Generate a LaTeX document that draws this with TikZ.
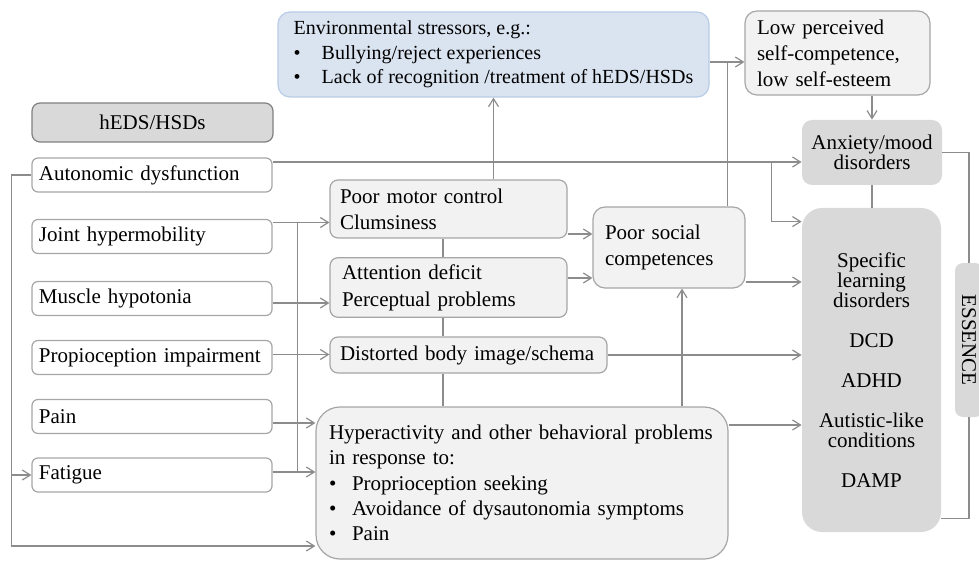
\documentclass[tikz,border=0pt]{standalone}
\usepackage{fontspec}
\usepackage{graphicx}
\setmainfont{Liberation Serif}
\usetikzlibrary{arrows.meta}
\definecolor{boxline}{HTML}{A6A6A6}
\definecolor{connline}{HTML}{8C8C8C}
\definecolor{lightfill}{HTML}{F2F2F2}
\definecolor{darkfill}{HTML}{D9D9D9}
\definecolor{envfill}{HTML}{DAE3F0}
\definecolor{envline}{HTML}{B8CCE8}
\begin{document}
\begin{tikzpicture}[x=0.5pt,y=-0.5pt,
    every node/.style={font=\fontsize{10.5}{13}\selectfont},
    leftbox/.style={draw=boxline,fill=white,line width=0.6pt,rounded corners=3pt,
      minimum height=17pt,inner xsep=3.5pt,text width=113pt,align=left},
    midbox/.style={draw=boxline,fill=lightfill,line width=0.6pt,rounded corners=4pt,align=left},
    greybox/.style={fill=darkfill,rounded corners=5pt,align=center,
      font=\fontsize{10.5}{10}\selectfont},
    line/.style={draw=connline,line width=0.6pt},
    arr/.style={line,-{Straight Barb[length=4pt,width=5pt]}}]
      \clip (0,0) rectangle (979,561);
      \node[draw=black!50,fill=darkfill,line width=0.6pt,rounded corners=4pt,
        minimum width=120.5pt,minimum height=19.5pt] (heds) at (152.5,122.5) {hEDS/HSDs};
      \node[leftbox] (auto) at (152,175) {Autonomic dysfunction};
      \node[leftbox] (joint) at (152,236.5) {Joint hypermobility};
      \node[leftbox] (musc) at (152,298.5) {Muscle hypotonia};
      \node[leftbox] (prop) at (152,357.5) {Propioception impairment};
      \node[leftbox] (pain) at (152,416.5) {Pain};
      \node[leftbox] (fat) at (152,475) {Fatigue};
      \node[midbox,fill=envfill,draw=envline,rounded corners=6pt,
        minimum width=215.5pt,minimum height=42.5pt,
        font=\fontsize{10}{12.25}\selectfont] (env) at (493.5,54.5)
        {Environmental stressors, e.g.:\\
         \makebox[14pt][l]{\textbullet}Bullying/reject experiences\\
         \makebox[14pt][l]{\textbullet}Lack of recognition /treatment of hEDS/HSDs};
      \node[midbox,rounded corners=6pt,inner xsep=6pt,text width=80.5pt,
        minimum height=42pt] (low) at (837.5,53)
        {Low perceived\\self-competence,\\low self-esteem};
      \node[midbox,inner xsep=5pt,text width=108.5pt,minimum height=29pt] (motor)
        at (448.5,209) {Poor motor control\\Clumsiness};
      \node[midbox,inner xsep=6pt,text width=106.5pt,minimum height=28.5pt,
        font=\fontsize{10.5}{13.5}\selectfont] (attn) at (448.5,287.5)
        {Attention deficit\\Perceptual problems};
      \node[midbox,inner xsep=5pt,text width=128.5pt,minimum height=18pt] (dist)
        at (468.5,355) {Distorted body image/schema};
      \node[midbox,rounded corners=6pt,inner xsep=6pt,text width=64pt,
        minimum height=40.5pt] (social) at (669,247.5) {Poor social\\competences};
      \node[midbox,rounded corners=12pt,inner xsep=6.5pt,text width=193pt,
        minimum height=76pt,font=\fontsize{10.5}{12.65}\selectfont] (hyper) at (522,483)
        {Hyperactivity and other behavioral problems\\in response to:\\
         \makebox[11.5pt][l]{\textbullet}Proprioception seeking\\
         \makebox[11.5pt][l]{\textbullet}Avoidance of dysautonomia symptoms\\
         \makebox[11.5pt][l]{\textbullet}Pain};
      \node[greybox,minimum width=70pt,minimum height=32.5pt] (anx) at (872,152.5)
        {Anxiety/mood\\disorders};
      \node[greybox,rounded corners=10pt,minimum width=69.5pt,minimum height=162pt]
        (spec) at (871.5,370)
        {Specific\\learning\\disorders\\[10pt]DCD\\[10pt]ADHD\\[10pt]Autistic-like\\conditions\\[10pt]DAMP};
      \node[greybox,rounded corners=4pt,minimum width=14pt,minimum height=77pt,
        inner sep=0pt] (ess) at (969,340) {\rotatebox{-90}{ESSENCE}};

      \coordinate (lc) at ([xshift=-10pt]auto.west);
      \coordinate (jr) at ([yshift=7pt]joint.east);
      \coordinate (mr) at ([yshift=-2.25pt]musc.east);
      \coordinate (pr) at ([yshift=1.5pt]prop.east);
      \coordinate (par) at ([yshift=-3.25pt]pain.east);
      \coordinate (fr) at ([yshift=1.5pt]fat.east);
      \coordinate (mo) at ([yshift=-12.5pt]motor.east);
      \coordinate (at) at ([yshift=4.75pt]attn.east);
      \coordinate (so) at ([yshift=-17.25pt]social.east);
      \coordinate (hy) at ([yshift=29pt]hyper.east);
      \coordinate (mid) at ([xshift=-2.75pt]motor.south);
      \coordinate (hs) at ([xshift=6.5pt]social.south);
      \coordinate (er) at ([yshift=-3.75pt]env.east);
      \coordinate (sj) at ([xshift=-9pt]social.north east);
      \coordinate (ay) at ([yshift=-4.75pt]anx.west);
      \coordinate (bx) at ([xshift=-15pt]ay);

      \draw[arr] (auto.west) -- (lc) |- ([yshift=-31.5pt]hyper.west);
      \draw[arr] (lc |- fat.west) -- (fat.west);
      \draw[arr] (ay -| auto.east) -- (ay);
      \draw[arr] (bx) |- ([yshift=-7pt]spec.north west);
      \draw[arr] (jr) -- (jr -| motor.west);
      \draw[arr] (mr) -- (mr -| attn.west);
      \draw[arr] (pr) -- (pr -| dist.west);
      \draw[arr] (par) -- (par -| hyper.west);
      \draw[arr] (fr) -- (fr -| hyper.west);
      \draw[line] ([xshift=12.5pt]jr) -- ([xshift=12.5pt]fr);
      \draw[arr] (mo) -- (mo -| social.west);
      \draw[arr] (at) -- (at -| social.west);
      \draw[line] (mid) -- (mid |- attn.north);
      \draw[line] (mid |- attn.south) -- (mid |- dist.north);
      \draw[line] (mid |- dist.south) -- (mid |- hyper.north);
      \draw[arr] (env.south |- motor.north) -- (env.south);
      \draw[arr] (hs |- hyper.north) -- (hs);
      \draw[arr] (er) -- (er -| low.west);
      \draw[line] (sj) -- (sj |- er);
      \draw[arr] (so) -- (so -| spec.west);
      \draw[arr] (dist.east) -- (dist.east -| spec.west);
      \draw[arr] (hy) -- (hy -| spec.west);
      \draw[arr] (anx.north |- low.south) -- (anx.north);
      \draw[line] (anx.south) -- (anx.south |- spec.north);
      \draw[line] (anx.east) -| (ess.north);
      \draw[line] (ess.south) |- ([yshift=7pt]spec.south east);
\end{tikzpicture}
\end{document}
